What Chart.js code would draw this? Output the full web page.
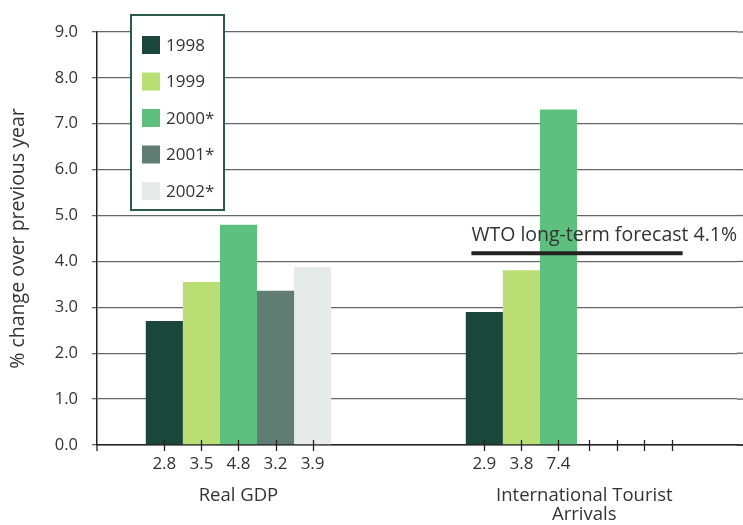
<!DOCTYPE html>
<html>
<head>
<meta charset="utf-8">
<script src="https://cdn.jsdelivr.net/npm/chart.js@4"></script>
<style>
  html, body { margin: 0; padding: 0; background: #fff; }
  #wrap { width: 743px; height: 525px; }
</style>
</head>
<body>
<div id="wrap"><canvas id="growthChart" width="743" height="525"></canvas></div>
<script>
const groups = ["Real GDP", ["International Tourist", "Arrivals"]];
const years = ["1998", "1999", "2000*", "2001*", "2002*"];
const yearColors = ["#1b473b", "#b8de74", "#5ec07f", "#5f7d72", "#e6eae8"];

// bar heights as drawn, [Real GDP, Tourist Arrivals]
const values1998 = [2.70, 2.90];
const values1999 = [3.55, 3.81];
const values2000 = [4.80, 7.31];
const values2001 = [3.36, null];
const values2002 = [3.88, null];

// labels printed under the bars
const gdpLabels = ["2.8", "3.5", "4.8", "3.2", "3.9"];
const touristLabels = ["2.9", "3.8", "7.4"];

const wtoForecast = 4.18;
const wtoText = "WTO long-term forecast 4.1%";

const yTicks = [0, 1, 2, 3, 4, 5, 6, 7, 8, 9];

const FONT = "'Open Sans', 'DejaVu Sans', sans-serif";
const TEXT = "#333333";

const seriesValues = [values1998, values1999, values2000, values2001, values2002];

const datasets = years.map((y, i) => ({
  label: y,
  data: seriesValues[i],
  backgroundColor: yearColors[i],
  borderWidth: 0
}));
// empty slot so the five bars sit left of each group centre
datasets.push({ label: "", data: [null, null], backgroundColor: "rgba(0,0,0,0)" });

const overlay = {
  id: "overlay",
  afterDatasetsDraw(chart) {
    const ctx = chart.ctx;
    const x = chart.scales.x;
    const y = chart.scales.y;
    const area = chart.chartArea;
    const axisY = y.getPixelForValue(0);
    const bw = chart.getDatasetMeta(0).data[0].width;

    // gridlines run on to the page edge
    ctx.save();
    ctx.strokeStyle = "#666";
    ctx.lineWidth = 1.3;
    yTicks.forEach(v => {
      const py = y.getPixelForValue(v);
      ctx.beginPath();
      ctx.moveTo(area.right, py);
      ctx.lineTo(chart.width, py);
      ctx.stroke();
    });

    // ticks and value labels under bars
    const tickXs = [[], []];
    for (let g = 0; g < 2; g++) {
      const labels = g === 0 ? gdpLabels : touristLabels;
      labels.forEach((lab, i) => {
        tickXs[g].push(chart.getDatasetMeta(i).data[g].x);
      });
    }
    const last = tickXs[1][tickXs[1].length - 1];
    for (let k = 0; k < 4; k++) tickXs[1].push(last + bw * (0.82 + 0.75 * k));

    ctx.strokeStyle = "#222";
    ctx.lineWidth = 1.3;
    tickXs.flat().forEach(tx => {
      ctx.beginPath();
      ctx.moveTo(Math.round(tx) + 0.5, axisY - 5);
      ctx.lineTo(Math.round(tx) + 0.5, axisY + 6);
      ctx.stroke();
    });
    // y axis runs a little below the x axis
    ctx.beginPath();
    ctx.moveTo(area.left, axisY);
    ctx.lineTo(area.left, axisY + 6);
    ctx.stroke();
    ctx.lineWidth = 1.5;
    ctx.beginPath();
    ctx.moveTo(area.right, axisY);
    ctx.lineTo(chart.width, axisY);
    ctx.stroke();

    ctx.fillStyle = TEXT;
    ctx.font = "17px " + FONT;
    ctx.textAlign = "center";
    ctx.textBaseline = "middle";
    [gdpLabels, touristLabels].forEach((labels, g) => {
      labels.forEach((lab, i) => ctx.fillText(lab, tickXs[g][i], axisY + 19));
    });

    // group labels
    ctx.font = "18.5px " + FONT;
    groups.forEach((name, g) => {
      const xs = tickXs[g];
      const cx = (xs[0] + xs[xs.length - 1]) / 2 + (g === 1 ? 6 : 0);
      const lines = Array.isArray(name) ? name : [name];
      lines.forEach((ln, j) => ctx.fillText(ln, cx, axisY + 51 + j * 19));
    });

    // WTO forecast line
    const wy = y.getPixelForValue(wtoForecast);
    const c = x.getPixelForValue(1);
    const half = (x.getPixelForValue(1) - x.getPixelForValue(0)) * 0.33;
    ctx.strokeStyle = "#222";
    ctx.lineWidth = 4;
    ctx.beginPath();
    ctx.moveTo(c - half, wy);
    ctx.lineTo(c + half, wy);
    ctx.stroke();
    ctx.font = "19.5px " + FONT;
    ctx.textAlign = "left";
    ctx.textBaseline = "alphabetic";
    ctx.fillText(wtoText, c - half, wy - 12);

    // legend box
    const bx = 131, by = 15, bwid = 93, bh = 195;
    ctx.fillStyle = "#fff";
    ctx.fillRect(bx, by, bwid, bh);
    ctx.strokeStyle = "#2b5a4a";
    ctx.lineWidth = 2;
    ctx.strokeRect(bx, by, bwid, bh);
    ctx.font = "17px " + FONT;
    ctx.textBaseline = "middle";
    years.forEach((yr, i) => {
      const ry = 45 + i * 36.5;
      ctx.fillStyle = yearColors[i];
      ctx.fillRect(bx + 11, ry - 9, 18, 18);
      ctx.fillStyle = TEXT;
      ctx.fillText(yr, bx + 35, ry + 1);
    });
    ctx.restore();
  }
};

new Chart(document.getElementById("growthChart"), {
  type: "bar",
  data: { labels: ["Real GDP", "International Tourist Arrivals"], datasets: datasets },
  plugins: [overlay],
  options: {
    responsive: false,
    animation: false,
    devicePixelRatio: 1,
    layout: { padding: { top: 32, right: 6, left: 0, bottom: 0 } },
    datasets: { bar: { categoryPercentage: 0.695, barPercentage: 1 } },
    plugins: { legend: { display: false }, tooltip: { enabled: false } },
    scales: {
      x: {
        grid: { display: false },
        border: { display: true, color: "#222", width: 1.5 },
        ticks: { display: false },
        afterFit(s) { s.height = 80; }
      },
      y: {
        min: 0,
        max: 9,
        afterBuildTicks(s) { s.ticks = yTicks.map(v => ({ value: v })); },
        ticks: {
          color: TEXT,
          font: { family: FONT, size: 16.5 },
          padding: 14,
          callback: v => Number(v).toFixed(1)
        },
        grid: { color: "#666", lineWidth: 1.3, tickLength: 5 },
        border: { display: true, color: "#222", width: 1.5 },
        title: {
          display: true,
          text: "% change over previous year",
          color: TEXT,
          font: { family: FONT, size: 19.5 },
          padding: { top: 7, bottom: 0 }
        },
        afterFit(s) { s.width = 97; }
      }
    }
  }
});
</script>
</body>
</html>
